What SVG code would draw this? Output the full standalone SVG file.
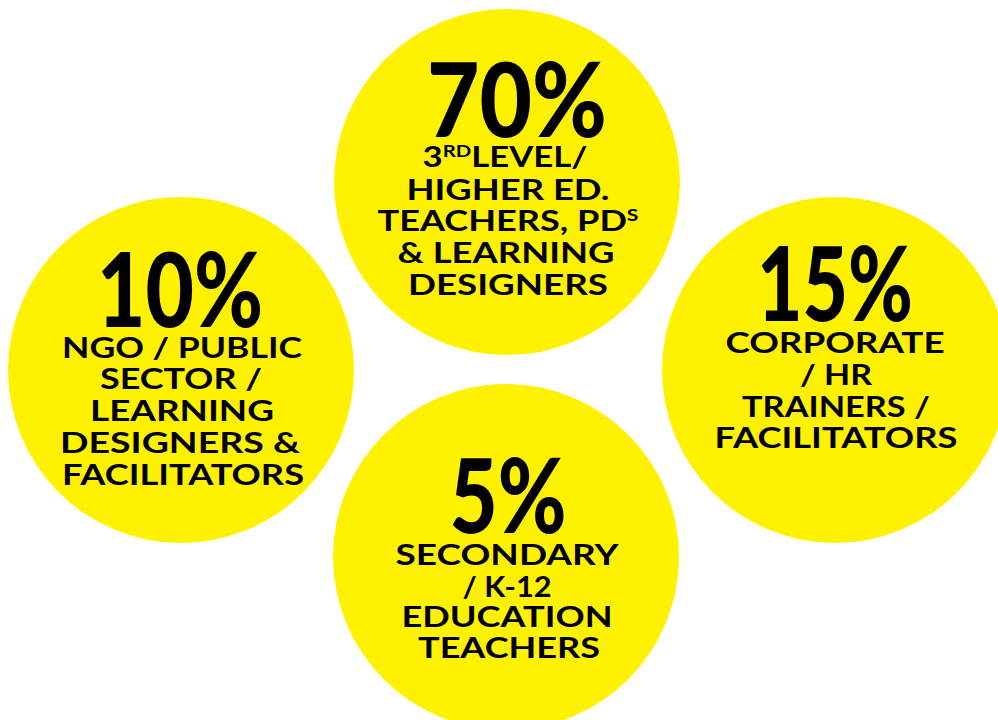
<svg xmlns="http://www.w3.org/2000/svg" width="998" height="720" viewBox="0 0 998 720">
<style>
.c{fill:#FFF200}
.p{font-family:Lato,"Liberation Sans",sans-serif;font-weight:900;font-size:102px;fill:#000;text-anchor:middle}
.t{font-family:Lato,"Liberation Sans",sans-serif;font-weight:700;font-size:29px;fill:#000;text-anchor:middle}
.s{font-size:17px}
</style>
<rect width="998" height="720" fill="#fff"/>
<g id="top">
<circle class="c" cx="507" cy="182" r="173"/>
<text class="p" x="517" y="137" textLength="180" lengthAdjust="spacingAndGlyphs">70%</text>
<text class="t" x="505" y="167" textLength="165" lengthAdjust="spacingAndGlyphs">3<tspan class="s" dy="-10">RD</tspan><tspan dy="10">LEVEL/</tspan></text>
<text class="t" x="508" y="200" textLength="203" lengthAdjust="spacingAndGlyphs">HIGHER ED.</text>
<text class="t" x="508" y="231" textLength="261" lengthAdjust="spacingAndGlyphs">TEACHERS, PD<tspan class="s" dy="-10">S</tspan></text>
<text class="t" x="506" y="263" textLength="217" lengthAdjust="spacingAndGlyphs">&amp; LEARNING</text>
<text class="t" x="508" y="295" textLength="200" lengthAdjust="spacingAndGlyphs">DESIGNERS</text>
</g>
<g id="left">
<circle class="c" cx="181" cy="370" r="173"/>
<text class="p" x="180" y="327" textLength="166" lengthAdjust="spacingAndGlyphs">10%</text>
<text class="t" x="182" y="358" textLength="240" lengthAdjust="spacingAndGlyphs">NGO / PUBLIC</text>
<text class="t" x="181" y="389" textLength="162" lengthAdjust="spacingAndGlyphs">SECTOR /</text>
<text class="t" x="182" y="421" textLength="184" lengthAdjust="spacingAndGlyphs">LEARNING</text>
<text class="t" x="180" y="453" textLength="240" lengthAdjust="spacingAndGlyphs">DESIGNERS &amp;</text>
<text class="t" x="183" y="485" textLength="242" lengthAdjust="spacingAndGlyphs">FACILITATORS</text>
</g>
<g id="right">
<circle class="c" cx="835" cy="370" r="173"/>
<text class="p" x="835" y="321" textLength="156" lengthAdjust="spacingAndGlyphs">15%</text>
<text class="t" x="835" y="353" textLength="219" lengthAdjust="spacingAndGlyphs">CORPORATE</text>
<text class="t" x="836" y="385" textLength="72" lengthAdjust="spacingAndGlyphs">/ HR</text>
<text class="t" x="836" y="417" textLength="188" lengthAdjust="spacingAndGlyphs">TRAINERS /</text>
<text class="t" x="836" y="448" textLength="243" lengthAdjust="spacingAndGlyphs">FACILITATORS</text>
</g>
<g id="bottom">
<circle class="c" cx="506" cy="557" r="173"/>
<text class="p" x="508" y="533" textLength="117" lengthAdjust="spacingAndGlyphs">5%</text>
<text class="t" x="507" y="565" textLength="223" lengthAdjust="spacingAndGlyphs">SECONDARY</text>
<text class="t" x="507" y="597" textLength="89" lengthAdjust="spacingAndGlyphs">/ K-12</text>
<text class="t" x="507" y="627" textLength="211" lengthAdjust="spacingAndGlyphs">EDUCATION</text>
<text class="t" x="509" y="658" textLength="182" lengthAdjust="spacingAndGlyphs">TEACHERS</text>
</g>
<g id="connectors"/>
</svg>
